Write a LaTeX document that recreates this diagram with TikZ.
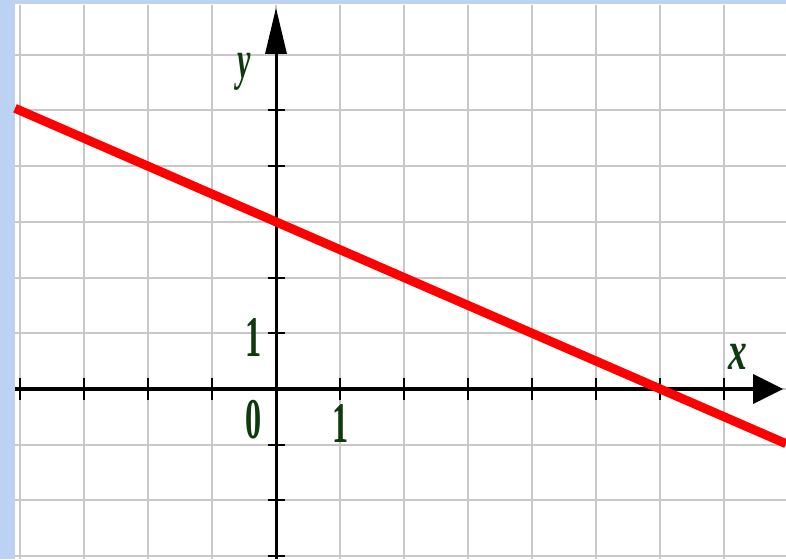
\documentclass[tikz,border=0pt]{standalone}
\usepackage{fontspec}
\setmainfont{Liberation Serif}
\definecolor{gridgray}{RGB}{200,200,200}
\definecolor{lblgreen}{RGB}{14,58,14}
\definecolor{bgblue}{RGB}{188,210,242}
\begin{document}
\begin{tikzpicture}[x=1pt,y=-1pt,
  gridline/.style={gridgray,line width=2pt},
  axisline/.style={black,line width=4.5pt},
  tickmark/.style={black,line width=2pt},
  numlbl/.style={text=lblgreen,inner sep=0pt,font=\fontsize{46}{46}\selectfont\bfseries,xscale=0.7,yscale=1.25},
  varlbl/.style={text=lblgreen,inner sep=0pt,font=\fontsize{50}{50}\selectfont\itshape\bfseries}]
\useasboundingbox (0,0) rectangle (786,559);
\fill[bgblue] (0,0) rectangle (786,559);
\fill[white] (15,4) rectangle (786,559);
% grid
\foreach \x in {20,84,...,724} \draw[gridline] (\x,5) -- (\x,559);
\foreach \k in {-6,...,3} \draw[gridline] (15,389+55.7*\k) -- (786,389+55.7*\k);
% axes
\coordinate (xl) at (15,389);
\coordinate (xr) at (756,389);
\coordinate (yb) at (276,559);
\coordinate (yt) at (276,50);
\draw[axisline] (xl) -- (xr);
\draw[black,line width=3pt] (yb) -- (yt);
\fill[black] (753,374) -- (783,389) -- (753,404) -- cycle;
\fill[black] (265,54) -- (276,8) -- (287,54) -- cycle;
% ticks
\foreach \x in {20,84,148,212,340,404,468,532,596,660,724} \draw[tickmark] (\x,378) -- (\x,400);
\foreach \k in {-5,...,-1,1,2,3} \draw[tickmark] (268,389+55.7*\k) -- (285,389+55.7*\k);
% line y = 3 - x/2
\coordinate (p) at (15,108.3);
\coordinate (q) at (786,443.7);
\draw[red,line width=9pt] (p) -- (q);
% labels
\node[numlbl] (one-y) at (254,338) {1};
\node[numlbl] (zero) at (254,420) {0};
\node[numlbl] (one-x) at (341,424) {1};
\node[varlbl,xscale=0.6,yscale=1.1] (ylab) at (244,72) {y};
\node[varlbl,xscale=0.75,yscale=1.1] (xlab) at (738,357) {x};
\end{tikzpicture}
\end{document}
